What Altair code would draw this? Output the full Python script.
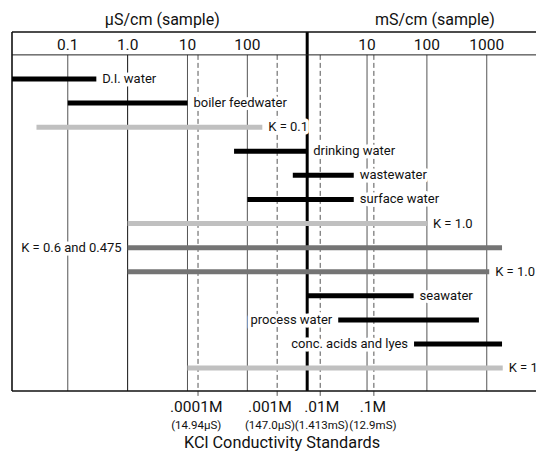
import altair as alt
import pandas as pd

# ---------------- data ----------------
labels = ["D.I. water", "boiler feedwater", "K = 0.1", "drinking water", "wastewater",
          "surface water", "K = 1.0", "K = 0.6 and 0.475", "K = 1.0", "seawater",
          "process water", "conc. acids and lyes", "K = 10.0"]
low = [0.0117, 0.1, 0.03, 60, 575, 100, 1, 1, 1, 1000, 3300, 61000, 10]          # µS/cm
high = [0.3, 10, 178, 1000, 6000, 6000, 1e5, 1.8e6, 1.1e6, 60000, 740000, 1.8e6, 1.85e6]
kind = ["sample", "sample", "cell light", "sample", "sample", "sample", "cell light",
        "cell dark", "cell dark", "sample", "sample", "sample", "cell light"]
side = ["right", "right", "right", "right", "right", "right", "right", "left", "right",
        "right", "left", "left", "right"]

grid_values = [0.1, 1, 10, 100, 1e4, 1e5, 1e6]
grid_labels = ["0.1", "1.0", "10", "100", "10", "100", "1000"]
unit_boundary = [1000]                      # 1000 µS = 1 mS
unit_titles = ["µS/cm (sample)", "mS/cm (sample)"]
unit_title_pos = [3.8, 136000]

kcl_pos = [15, 315, 1650, 13000]
kcl_label_pos = [14, 239, 1750, 12500]
kcl_molar = [".0001M", ".001M", ".01M", ".1M"]
kcl_cond = ["(14.94µS)", "(147.0µS)", "(1.413mS)", "(12.9mS)"]
footer = ["KCl Conductivity Standards"]
footer_pos = [380]

# ---------------- layout ----------------
FONT = "Roboto"
X_DOM = [0.0117, 6.65e6]
Y_TOP, Y_HEAD, Y_BOT = -1.95, -1.0, 12.95

xs = alt.Scale(type="log", domain=X_DOM, nice=False)
ys = alt.Scale(domain=[Y_TOP, Y_BOT], reverse=True, nice=False, zero=False)


def X(f):
    return alt.X(f, type="quantitative", scale=xs, axis=None)


def Yd(v):
    return alt.Y(datum=v, scale=ys, axis=None)


rows = pd.DataFrame({"label": labels, "low": low, "high": high, "kind": kind,
                     "side": side, "row": list(range(len(labels)))})
grid = pd.DataFrame({"x": grid_values, "lab": grid_labels})
bound = pd.DataFrame({"x": unit_boundary})
kcl = pd.DataFrame({"x": kcl_pos, "lx": kcl_label_pos, "m": kcl_molar, "c": kcl_cond})
units = pd.DataFrame({"x": unit_title_pos, "t": unit_titles})
foot = pd.DataFrame({"x": footer_pos, "t": footer})
Yrow = alt.Y("row:Q", scale=ys, axis=None)

gridlines = alt.Chart(grid).mark_rule(strokeWidth=1).encode(
    x=X("x"), y=Yd(Y_HEAD), y2=alt.Y2(datum=Y_BOT),
    color=alt.condition(alt.datum.x == 1, alt.value("#111"), alt.value("#555")))
dashed = alt.Chart(kcl).mark_rule(color="#555", strokeWidth=1, strokeDash=[5, 3]).encode(
    x=X("x"), y=Yd(Y_HEAD), y2=alt.Y2(datum=13.2))
thick = alt.Chart(bound).mark_rule(color="#000", strokeWidth=3).encode(
    x=X("x"), y=Yd(Y_TOP), y2=alt.Y2(datum=Y_BOT))

frame_h = alt.Chart(pd.DataFrame({"y": [Y_TOP, Y_BOT]})).mark_rule(
    color="#111", strokeWidth=1.6).encode(y=alt.Y("y:Q", scale=ys, axis=None))
header_line = alt.Chart(pd.DataFrame({"y": [Y_HEAD]})).mark_rule(
    color="#222", strokeWidth=1).encode(y=alt.Y("y:Q", scale=ys, axis=None))
frame_left = alt.Chart(pd.DataFrame({"x": [X_DOM[0]]})).mark_rule(
    color="#111", strokeWidth=1.6).encode(x=X("x"))

right_rows = alt.Chart(rows).transform_filter(alt.datum.side == "right")
left_rows = alt.Chart(rows).transform_filter(alt.datum.side == "left")

LAB_SIZE = 13
halo_kw = dict(font=FONT, fontSize=LAB_SIZE, baseline="middle", stroke="white",
               strokeWidth=7, strokeJoin="round", color="white")
halo_r = right_rows.mark_text(align="left", dx=6, **halo_kw).encode(
    x=X("high"), y=Yrow, text="label:N")
halo_l = left_rows.mark_text(align="right", dx=-6, **halo_kw).encode(
    x=X("low"), y=Yrow, text="label:N")

bars = alt.Chart(rows).mark_rule(strokeWidth=5, strokeCap="butt").encode(
    x=X("low"), x2="high:Q", y=Yrow,
    color=alt.Color("kind:N", legend=None,
                    scale=alt.Scale(domain=["sample", "cell light", "cell dark"],
                                    range=["#000000", "#c0c0c0", "#747474"])))

txt_kw = dict(font=FONT, fontSize=LAB_SIZE, baseline="middle", color="#111")
text_r = right_rows.mark_text(align="left", dx=6, **txt_kw).encode(
    x=X("high"), y=Yrow, text="label:N")
text_l = left_rows.mark_text(align="right", dx=-6, **txt_kw).encode(
    x=X("low"), y=Yrow, text="label:N")

tick_labels = alt.Chart(grid).mark_text(font=FONT, fontSize=15.5, baseline="alphabetic",
                                        align="center", color="#111").encode(
    x=X("x"), y=Yd(-1.2), text="lab:N")
unit_text = alt.Chart(units).mark_text(font=FONT, fontSize=16, baseline="alphabetic",
                                       align="center", color="#111").encode(
    x=X("x"), y=Yd(-2.24), text="t:N")
kcl_m = alt.Chart(kcl).mark_text(font=FONT, fontSize=15.5, baseline="alphabetic",
                                 align="center", color="#111").encode(
    x=X("lx"), y=Yd(13.82), text="m:N")
kcl_c = alt.Chart(kcl).mark_text(font=FONT, fontSize=11.5, baseline="alphabetic",
                                 align="center", color="#111").encode(
    x=X("lx"), y=Yd(14.53), text="c:N")
foot_text = alt.Chart(foot).mark_text(font=FONT, fontSize=16.3, baseline="alphabetic",
                                      align="center", color="#111").encode(
    x=X("x"), y=Yd(15.32), text="t:N")

chart = alt.layer(
    gridlines, dashed, thick, frame_h, header_line, frame_left,
    halo_r, halo_l, bars, text_r, text_l,
    tick_labels, unit_text, kcl_m, kcl_c, foot_text,
).properties(
    width=524, height=359, autosize="none",
    padding={"left": 4, "top": 24, "right": 0, "bottom": 61},
).configure_view(stroke=None)

chart.save("out.html", embed_options={"renderer": "svg", "actions": False})
